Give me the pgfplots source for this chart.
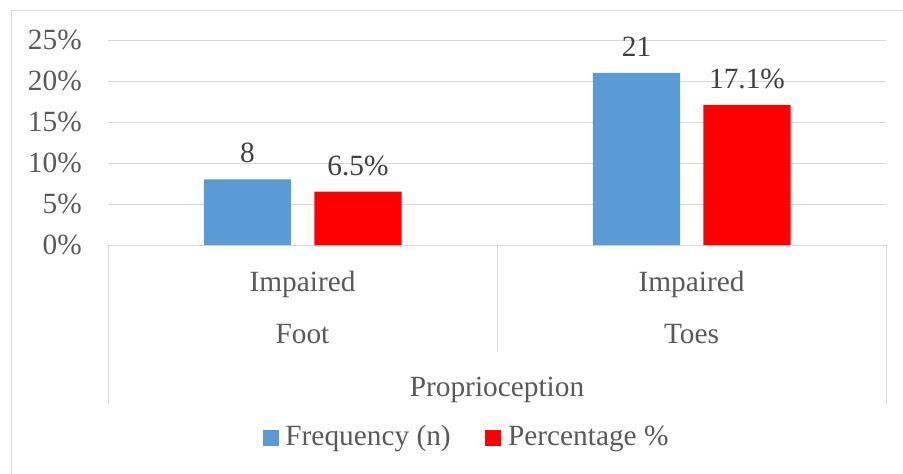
\documentclass[border=0pt]{standalone}
\usepackage{pgfplots}
\pgfplotsset{compat=1.18}
\usepackage{fontspec}
\setmainfont{Liberation Serif}

\definecolor{freqblue}{HTML}{5B9BD5}
\definecolor{pctred}{HTML}{FF0000}
\definecolor{gridgray}{HTML}{D9D9D9}
\definecolor{ticktext}{HTML}{595959}
\definecolor{labeltext}{HTML}{404040}

\begin{document}
\begin{tikzpicture}
\fontsize{22}{26}\selectfont
\begin{axis}[
  at={({108*0.75pt},{-245*0.75pt})}, anchor=south west,
  scale only axis,
  width={778*0.75pt}, height={205*0.75pt},
  xmin=-0.5, xmax=1.5,
  ymin=0, ymax=25,
  ytick={0,5,...,25},
  xtick=\empty,
  yticklabel={\pgfmathprintnumber{\tick}\%},
  /pgf/number format/assume math mode=true,
  major tick length=0pt,
  ymajorgrids,
  grid style={gridgray, line width=0.75pt},
  axis x line*=bottom,
  axis y line*=left,
  x axis line style={gridgray, line width=0.75pt},
  y axis line style={draw=none},
  yticklabel style={anchor=east, inner sep=0pt, xshift=-19.5pt, text=ticktext,
    font=\fontsize{22}{26}\selectfont},
  ybar, bar width=0.224,
  nodes near coords,
  every node near coord/.append style={anchor=base, inner sep=0pt, yshift=12.5pt,
    text=labeltext, font=\fontsize{22}{26}\selectfont},
  legend columns=2,
  legend style={draw=none, fill=none, at={(0.4614,-0.9415)}, anchor=center,
    font=\fontsize{22}{26}\selectfont, text=ticktext,
    /tikz/every even column/.append style={column sep=24pt},
    /tikz/every odd column/.append style={column sep=3pt}},
  legend image code/.code={\fill[#1, draw=none] (0pt,-6pt) rectangle (12pt,6pt);},
  clip=false,
]
% Frequency (n), drawn on the percentage scale
\addplot[fill=freqblue, draw=none, bar shift=-0.1414,
  nodes near coords={\pgfmathprintnumber{\pgfplotspointmeta}}]
  coordinates {(0,8) (1,21)};
\addlegendentry{Frequency (n)}
% Percentage %
\addplot[fill=pctred, draw=none, bar shift=0.1426,
  nodes near coords={\pgfmathprintnumber[fixed,precision=1,fixed zerofill]{\pgfplotspointmeta}\%}]
  coordinates {(0,6.5) (1,17.1)};
\addlegendentry{Percentage \%}
\end{axis}

% multi-level category axis and chart frame, in pixel-like units
\begin{scope}[x=0.75pt, y=-0.75pt]
  \draw[gridgray, line width=0.75pt] (11,474) -- (11,11) -- (903,11);
  \draw[gridgray, line width=0.75pt] (108,245) -- (108,404);
  \draw[gridgray, line width=0.75pt] (497,245) -- (497,352);
  \draw[gridgray, line width=0.75pt] (886,245) -- (886,404);
  \begin{scope}[every node/.style={anchor=base, inner sep=0pt, text=ticktext}]
    \node at (302.5,291) {Impaired};
    \node at (691.5,291) {Impaired};
    \node at (302.5,343) {Foot};
    \node at (691.5,343) {Toes};
    \node at (497,396) {Proprioception};
  \end{scope}
  \pgfresetboundingbox
  \path[use as bounding box] (0,0) rectangle (903,474);
\end{scope}
\end{tikzpicture}
\end{document}
